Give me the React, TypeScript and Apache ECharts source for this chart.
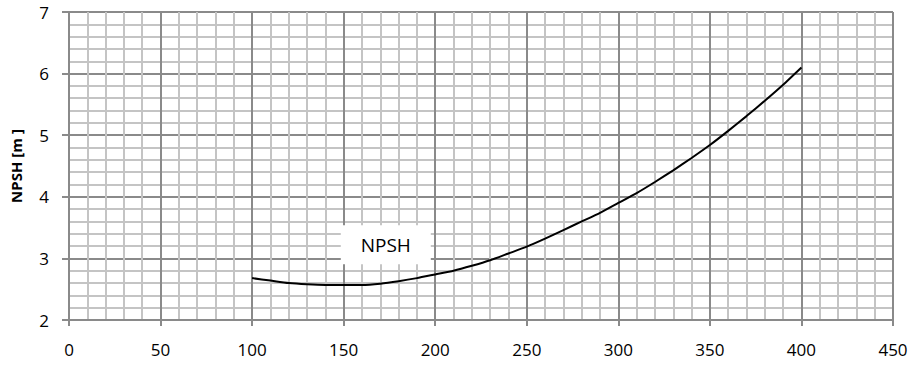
import React, { useEffect, useRef } from "react";
import * as echarts from "echarts";

const flowValues = [100, 110, 120, 130, 140, 150, 160, 170, 180, 190, 200, 210, 220, 230, 240, 250, 260, 270, 280, 290, 300, 310, 320, 330, 340, 350, 360, 370, 380, 390, 400];
const npshValues = [2.68, 2.64, 2.6, 2.58, 2.57, 2.57, 2.57, 2.59, 2.63, 2.68, 2.74, 2.8, 2.88, 2.97, 3.08, 3.19, 3.32, 3.46, 3.6, 3.74, 3.9, 4.06, 4.24, 4.43, 4.63, 4.84, 5.07, 5.31, 5.56, 5.82, 6.1];
const seriesLabel = "NPSH";
const labelPosition = [173, 3.22];
const yAxisTitle = "NPSH [m ]";

const FONT = "'Open Sans', 'Noto Sans', sans-serif";
const MAJOR = "#8a8a8a";
const MINOR = "#c4c4c4";

export default function App() {
  const ref = useRef<HTMLDivElement>(null);
  useEffect(() => {
    document.body.style.margin = "0";
    const chart = echarts.init(ref.current!, null, { renderer: "svg" });
    chart.setOption({
      animation: false,
      backgroundColor: "#ffffff",
      grid: { left: 68, right: 27, top: 12, bottom: 46, containLabel: false },
      xAxis: {
        type: "value",
        min: 0,
        max: 450,
        interval: 50,
        axisLine: { show: true, lineStyle: { color: MAJOR, width: 2 } },
        axisTick: { show: true, length: 6, inside: false, lineStyle: { color: MAJOR, width: 2 } },
        axisLabel: { color: "#000", fontSize: 17, fontFamily: FONT, margin: 21 },
        splitLine: { show: true, lineStyle: { color: MAJOR, width: 2 } },
        minorTick: { show: false, splitNumber: 5 },
        minorSplitLine: { show: true, lineStyle: { color: MINOR, width: 2 } },
      },
      yAxis: {
        type: "value",
        min: 2,
        max: 7,
        interval: 1,
        name: yAxisTitle,
        nameLocation: "middle",
        nameGap: 46,
        nameTextStyle: { color: "#000", fontSize: 15, fontWeight: "bold", fontFamily: FONT },
        axisLine: { show: true, lineStyle: { color: MAJOR, width: 2 } },
        axisTick: { show: true, length: 7, inside: false, lineStyle: { color: MAJOR, width: 2 } },
        axisLabel: { color: "#000", fontSize: 17, fontFamily: FONT, margin: 20 },
        splitLine: { show: true, lineStyle: { color: MAJOR, width: 2 } },
        minorTick: { show: false, splitNumber: 5 },
        minorSplitLine: { show: true, lineStyle: { color: MINOR, width: 2 } },
      },
      series: [
        {
          type: "line",
          name: seriesLabel,
          data: flowValues.map((x, i) => [x, npshValues[i]]),
          showSymbol: false,
          smooth: 0.2,
          lineStyle: { color: "#000", width: 2 },
          markPoint: {
            symbol: "rect",
            symbolSize: [90, 39],
            itemStyle: { color: "#ffffff" },
            label: {
              show: true,
              formatter: seriesLabel,
              color: "#000",
              fontSize: 19,
              fontFamily: FONT,
            },
            data: [{ coord: labelPosition }],
          },
        },
      ],
    });
    return () => chart.dispose();
  }, []);
  return <div ref={ref} style={{ width: 920, height: 366 }} />;
}
